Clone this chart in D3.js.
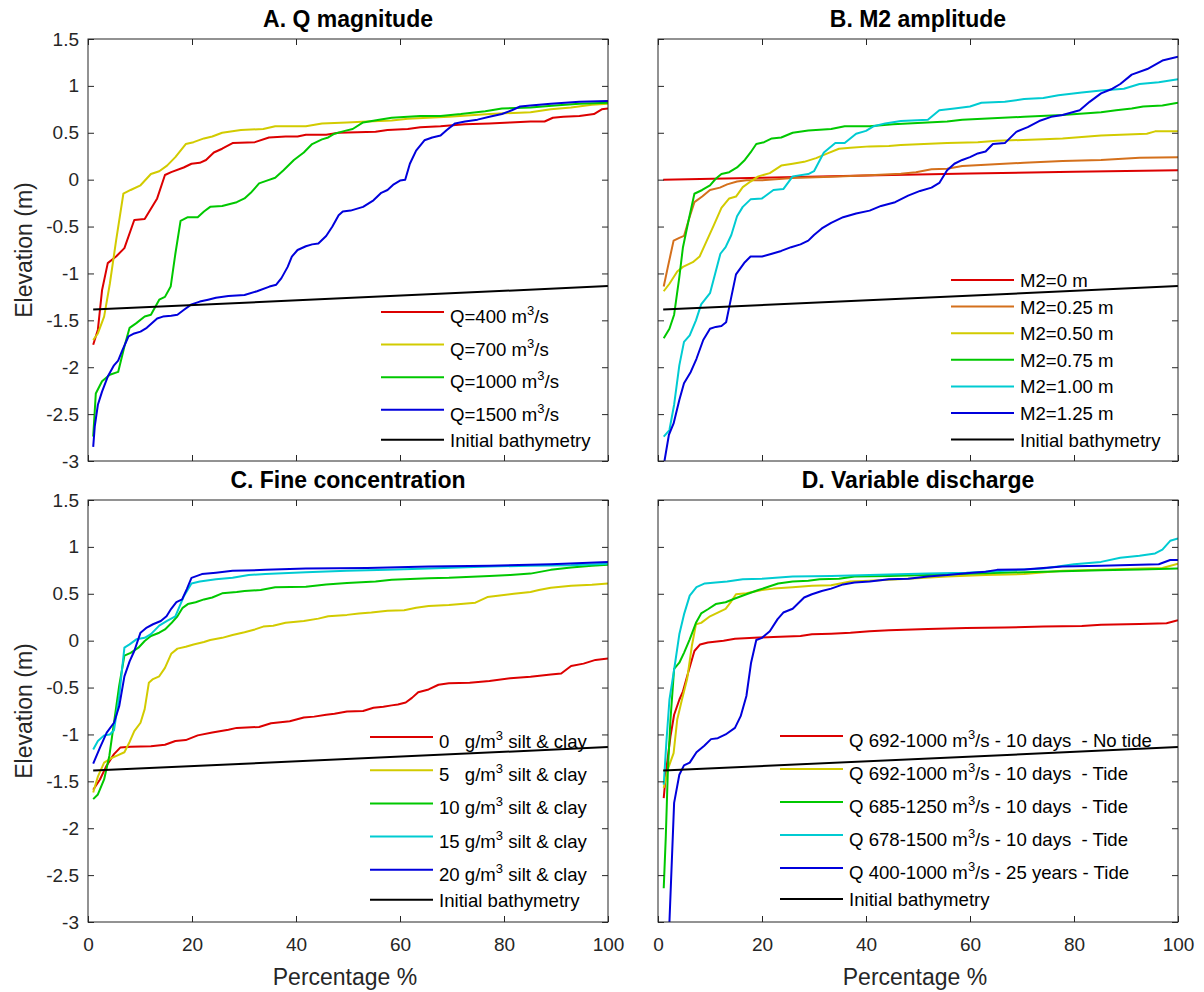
<!DOCTYPE html>
<html>
<head>
<meta charset="utf-8">
<script src="https://cdn.jsdelivr.net/npm/d3@7"></script>
<style>
  html, body { margin: 0; padding: 0; background: #fff; }
  svg text { font-family: "Liberation Sans", Arial, Helvetica, sans-serif; }
</style>
</head>
<body>
<svg id="chart"></svg>
<script>
// axis ticks
const xTicks = [0, 20, 40, 60, 80, 100];
const yTicks = [-3, -2.5, -2, -1.5, -1, -0.5, 0, 0.5, 1, 1.5];

// [percentage, elevation] pairs
const initialBathy = [[1, -1.385], [100, -1.135]];

// A. Q magnitude
const qA400 = [[1,-1.76],[1.9,-1.6],[2.7,-1.18],[3.8,-0.89],[5.4,-0.82],[7,-0.73],[8.9,-0.43],[10.9,-0.42],[13.3,-0.2],[14.8,0.05],[16,0.08],[18.4,0.13],[19.9,0.17],[21.5,0.18],[22.7,0.21],[24.2,0.29],[25.8,0.33],[27.8,0.39],[32.1,0.4],[34.8,0.45],[38,0.46],[40.3,0.46],[41.9,0.48],[45.8,0.48],[48.2,0.5],[55.3,0.51],[57.6,0.53],[61.5,0.54],[63.9,0.56],[67.8,0.57],[72.5,0.59],[77.2,0.6],[81.2,0.61],[85.1,0.62],[87.8,0.62],[89.4,0.66],[91.4,0.67],[94.5,0.68],[97.3,0.7],[98.8,0.75],[100,0.76]];
const qA700 = [[1,-1.71],[1.9,-1.64],[3.1,-1.46],[4.2,-1.11],[5.4,-0.65],[6.8,-0.15],[8.2,-0.11],[10.1,-0.06],[12.1,0.06],[13.7,0.09],[15.2,0.15],[16.8,0.24],[18.8,0.38],[20.3,0.4],[22.3,0.44],[23.9,0.46],[25.8,0.5],[29.4,0.53],[33.7,0.54],[36,0.57],[41.9,0.57],[45,0.6],[49.8,0.61],[53.7,0.62],[58.4,0.63],[61.5,0.65],[69.4,0.67],[77.2,0.7],[85.1,0.72],[89,0.75],[92.9,0.77],[96.9,0.8],[100,0.81]];
const qA1000 = [[1,-2.74],[1.5,-2.28],[2.7,-2.15],[4.2,-2.08],[5.8,-2.05],[7,-1.78],[8,-1.58],[9.3,-1.53],[10.9,-1.46],[12.1,-1.44],[13.7,-1.28],[14.8,-1.25],[15.9,-1.14],[16.8,-0.79],[17.8,-0.44],[19.2,-0.4],[21.1,-0.4],[22.3,-0.34],[23.5,-0.29],[25.8,-0.28],[28.6,-0.24],[30.1,-0.2],[31.3,-0.14],[32.9,-0.04],[34.4,-0.01],[36,0.02],[37.6,0.1],[39.6,0.21],[41.5,0.29],[43.1,0.38],[45,0.43],[46.2,0.45],[47.4,0.49],[49.4,0.52],[50.9,0.54],[52.9,0.61],[56,0.64],[58.4,0.66],[61.5,0.67],[63.9,0.68],[67.8,0.68],[71.7,0.7],[76.4,0.73],[79.6,0.76],[85.1,0.77],[89.8,0.79],[94.5,0.81],[100,0.82]];
const qA1500 = [[1,-2.85],[1.3,-2.63],[1.9,-2.4],[2.7,-2.26],[3.8,-2.1],[5,-1.98],[5.8,-1.93],[6.6,-1.82],[7.8,-1.67],[8.9,-1.64],[10.1,-1.62],[11.3,-1.58],[13.3,-1.48],[14.4,-1.46],[16,-1.45],[17.2,-1.44],[18.4,-1.39],[19.9,-1.33],[21.5,-1.3],[23.1,-1.28],[24.6,-1.26],[27,-1.24],[30.1,-1.23],[32.5,-1.19],[34.9,-1.14],[36.2,-1.12],[37.2,-1.05],[38.4,-0.93],[39.2,-0.82],[40.3,-0.75],[41.9,-0.71],[43.1,-0.69],[44.3,-0.68],[45.8,-0.6],[47,-0.5],[48.2,-0.38],[49,-0.34],[50.5,-0.33],[52.9,-0.29],[54.9,-0.22],[56.4,-0.14],[57.6,-0.11],[58.8,-0.05],[60,-0.01],[61,0],[61.9,0.17],[63.1,0.31],[64.7,0.42],[66.2,0.45],[67.8,0.47],[69,0.53],[70.6,0.6],[72.5,0.62],[74.9,0.64],[77.2,0.67],[79.6,0.7],[81.5,0.74],[83.1,0.78],[85.1,0.79],[89,0.81],[94.5,0.83],[100,0.84]];

// B. M2 amplitude
const m2a0 = [[1,0],[20,0.02],[40,0.045],[60,0.065],[80,0.085],[100,0.1]];
const m2a025 = [[1.1,-1.14],[1.9,-0.93],[3,-0.65],[4.1,-0.62],[5,-0.6],[5.9,-0.43],[7,-0.24],[8.5,-0.18],[10,-0.11],[11.9,-0.085],[13.3,-0.05],[15.2,-0.02],[17,-0.007],[20,-0.007],[25.9,0.018],[33.3,0.03],[40.7,0.046],[46.7,0.064],[49.6,0.08],[52.6,0.11],[55.6,0.117],[58.5,0.145],[63,0.16],[70.4,0.18],[77.8,0.2],[85.2,0.21],[92.6,0.234],[100,0.24]];
const m2a050 = [[1.1,-1.19],[2.2,-1.11],[3.7,-0.98],[4.8,-0.93],[6.7,-0.88],[8,-0.82],[9.3,-0.66],[10.7,-0.49],[12.2,-0.3],[13.7,-0.2],[15,-0.18],[16.3,-0.08],[17.8,-0.02],[19.3,0.035],[21.5,0.07],[23.7,0.15],[25.9,0.17],[28.1,0.19],[30.4,0.23],[32.6,0.28],[34.8,0.33],[37,0.34],[40.7,0.355],[44.4,0.36],[46.7,0.37],[55.6,0.39],[61.5,0.4],[65.2,0.415],[74.1,0.43],[77.8,0.44],[85.2,0.47],[94,0.49],[95.6,0.515],[100,0.515]];
const m2a075 = [[1.1,-1.69],[2.2,-1.59],[3.1,-1.44],[4.1,-1.04],[4.8,-0.72],[5.9,-0.43],[7,-0.15],[8.5,-0.11],[10,-0.06],[11.1,0.01],[12.2,0.06],[13.7,0.08],[15.2,0.13],[16.7,0.21],[17.8,0.29],[18.9,0.38],[20.4,0.4],[21.9,0.44],[23.7,0.45],[25.9,0.5],[28.9,0.525],[33.3,0.54],[35.9,0.57],[40.7,0.57],[45.2,0.59],[55.6,0.62],[58.5,0.64],[70.4,0.67],[77.8,0.69],[85.2,0.72],[88.1,0.74],[91.1,0.76],[93.3,0.78],[97,0.79],[100,0.82]];
const m2a100 = [[1.1,-2.74],[2.2,-2.67],[3.1,-2.4],[4.1,-1.98],[5,-1.73],[6.1,-1.66],[7.3,-1.5],[8.3,-1.33],[10,-1.21],[11,-1],[12,-0.79],[13,-0.72],[14.1,-0.59],[15.2,-0.39],[16.3,-0.29],[17.8,-0.21],[20,-0.2],[22.2,-0.11],[24.1,-0.1],[25.9,0.035],[28.9,0.06],[30,0.09],[31.9,0.29],[34.1,0.39],[35.9,0.39],[38.1,0.49],[40,0.52],[41.5,0.57],[43.7,0.6],[46.7,0.625],[51.9,0.64],[54.1,0.74],[57,0.76],[60,0.78],[62.2,0.82],[66.7,0.83],[70.4,0.86],[74.1,0.87],[77,0.9],[81.5,0.93],[85.2,0.95],[89.6,0.97],[92.6,1.02],[96.3,1.04],[100,1.07]];
const m2a125 = [[1,-3.08],[2.1,-2.72],[3,-2.6],[4.1,-2.35],[5,-2.17],[6.3,-2.05],[7.4,-1.91],[8.7,-1.71],[10,-1.59],[11.1,-1.57],[12.2,-1.56],[13.1,-1.52],[14.1,-1.25],[15,-1.01],[16.7,-0.88],[17.8,-0.82],[20,-0.82],[21.9,-0.79],[23.7,-0.76],[25.6,-0.72],[27.4,-0.69],[28.9,-0.65],[30,-0.59],[31.5,-0.52],[33.3,-0.46],[35.6,-0.4],[38.1,-0.36],[40.7,-0.33],[42.9,-0.28],[45.6,-0.24],[48.1,-0.17],[50.4,-0.12],[52.6,-0.085],[54.1,-0.035],[55.6,0.1],[57,0.17],[58.5,0.21],[60,0.24],[61.5,0.28],[63,0.3],[64.4,0.38],[66.7,0.39],[68.9,0.51],[71.1,0.56],[73.3,0.625],[75.6,0.67],[77.8,0.69],[81.1,0.74],[83,0.83],[85.2,0.92],[87.4,0.97],[88.9,1.02],[91.1,1.12],[94.1,1.18],[97,1.27],[100,1.31]];

// C. Fine concentration
const fc0 = [[1,-1.59],[2.3,-1.48],[3.5,-1.34],[5,-1.21],[6.2,-1.14],[8.2,-1.13],[12.1,-1.125],[14.8,-1.11],[16.8,-1.07],[18.8,-1.06],[21.1,-1.01],[23.9,-0.98],[27,-0.95],[28.6,-0.93],[32.9,-0.92],[35.2,-0.88],[38.8,-0.86],[41.5,-0.82],[43.5,-0.81],[45.8,-0.79],[47.4,-0.78],[49.8,-0.755],[52.9,-0.75],[54.9,-0.715],[56.8,-0.705],[58.4,-0.69],[59.6,-0.68],[61.1,-0.66],[62.3,-0.61],[63.5,-0.55],[65.5,-0.52],[67.4,-0.47],[69.4,-0.455],[73.4,-0.45],[77.2,-0.43],[81.2,-0.4],[85.1,-0.385],[89,-0.36],[91,-0.35],[92.9,-0.27],[95.3,-0.245],[97.6,-0.205],[100,-0.19]];
const fc5 = [[1,-1.62],[1.9,-1.45],[3.1,-1.3],[4.6,-1.25],[5.8,-1.22],[7,-1.19],[8,-1.08],[8.9,-0.965],[10.1,-0.875],[10.9,-0.73],[11.7,-0.45],[12.5,-0.41],[13.7,-0.38],[14.8,-0.29],[16,-0.14],[17.2,-0.085],[18.8,-0.065],[20.3,-0.04],[22.3,-0.015],[23.5,0.007],[25.8,0.03],[27.8,0.06],[30.1,0.09],[32.1,0.12],[33.7,0.15],[35.6,0.16],[38,0.19],[41.5,0.21],[44.3,0.235],[46.2,0.26],[49.8,0.275],[52.1,0.29],[54.5,0.3],[57.6,0.32],[60.8,0.325],[63.1,0.35],[65.5,0.37],[69.4,0.38],[71.7,0.39],[74.5,0.405],[76.8,0.465],[78.8,0.48],[81.9,0.5],[85.1,0.52],[86.7,0.54],[89,0.565],[92.9,0.585],[96.9,0.595],[100,0.61]];
const fc10 = [[1,-1.69],[1.9,-1.64],[3.1,-1.48],[4.1,-1.23],[5,-0.875],[6,-0.48],[7,-0.16],[8.2,-0.13],[9.7,-0.075],[10.9,-0.004],[12.1,0.05],[13.7,0.085],[14.8,0.12],[16,0.185],[17.2,0.26],[18.2,0.35],[19.2,0.39],[20.7,0.41],[22.3,0.44],[23.9,0.46],[25.8,0.505],[28.6,0.52],[30.1,0.53],[33.2,0.54],[36,0.57],[41.9,0.575],[45.8,0.6],[49.8,0.615],[55.3,0.63],[58.4,0.65],[65.5,0.665],[69.4,0.67],[77.2,0.69],[81.2,0.7],[85.1,0.715],[89,0.755],[92.9,0.78],[96.9,0.8],[100,0.81]];
const fc15 = [[1,-1.16],[1.9,-1.07],[3.1,-1.01],[4.2,-1],[5,-0.955],[6,-0.59],[7,-0.075],[8,-0.04],[9.3,0.014],[10.9,0.03],[12.1,0.07],[13.7,0.16],[15.2,0.21],[16.8,0.26],[18.4,0.47],[19.9,0.61],[21.5,0.63],[24.6,0.655],[27.8,0.67],[30.9,0.7],[34.1,0.71],[41.9,0.73],[49.8,0.745],[57.6,0.755],[65.5,0.77],[77.2,0.79],[85.1,0.8],[92.9,0.805],[100,0.82]];
const fc20 = [[1,-1.31],[2.3,-1.14],[3.6,-0.98],[5,-0.875],[6,-0.7],[7,-0.38],[8,-0.22],[8.9,-0.11],[10.1,0.085],[11.3,0.14],[12.5,0.175],[14,0.21],[15.1,0.26],[16,0.34],[17,0.41],[18.1,0.44],[19,0.55],[19.9,0.67],[21.9,0.71],[24.6,0.725],[27.8,0.745],[34.1,0.755],[41.9,0.77],[53.7,0.775],[65.5,0.79],[77.2,0.8],[89,0.815],[100,0.84]];

// D. Variable discharge
const vdNoTide = [[1.1,-1.68],[1.6,-1.37],[2.4,-1.02],[3.1,-0.79],[4.1,-0.63],[4.8,-0.54],[5.9,-0.32],[7,-0.11],[8.1,-0.04],[9.6,-0.02],[12.6,0],[14.8,0.02],[18.5,0.03],[22.2,0.04],[27.4,0.05],[29.6,0.068],[33.3,0.075],[37,0.085],[40.7,0.1],[44.4,0.11],[51.9,0.125],[59.3,0.135],[66.7,0.14],[74.1,0.15],[81.5,0.157],[85.2,0.17],[92.6,0.178],[97.8,0.185],[100,0.217]];
const vd692 = [[1.1,-1.57],[1.9,-1.37],[3,-1.2],[3.7,-0.84],[4.6,-0.63],[5.6,-0.41],[6.5,-0.06],[7.3,0.175],[8.3,0.19],[10,0.26],[11.5,0.3],[13,0.34],[14.1,0.42],[15,0.495],[17,0.505],[20,0.54],[22.2,0.555],[25.9,0.57],[29.6,0.585],[33.3,0.59],[37,0.63],[40.7,0.64],[48.1,0.66],[55.6,0.685],[63,0.7],[70.4,0.71],[77.8,0.745],[85.2,0.755],[92.6,0.77],[97,0.775],[100,0.82]];
const vd685 = [[1.1,-2.64],[1.5,-2.09],[1.9,-1.375],[2.4,-0.84],[3.1,-0.3],[4.1,-0.235],[5,-0.13],[6.1,0.014],[7.3,0.19],[8.3,0.29],[9.6,0.335],[11.1,0.39],[13,0.41],[14.8,0.45],[17,0.495],[19.3,0.54],[21.5,0.58],[23.1,0.61],[25.9,0.63],[28.9,0.64],[31.1,0.655],[34.8,0.66],[37.8,0.685],[44.4,0.69],[51.9,0.7],[63,0.72],[74.1,0.735],[85.2,0.75],[92.6,0.76],[100,0.77]];
const vd678 = [[1.1,-1.535],[1.6,-1.09],[2.2,-0.63],[3.1,-0.31],[4.1,0.068],[5,0.28],[6.1,0.48],[7.4,0.57],[9,0.61],[11.1,0.62],[13.3,0.63],[16.3,0.655],[20,0.66],[25.9,0.685],[33.3,0.69],[40.7,0.7],[51.9,0.715],[59.3,0.725],[66.7,0.745],[74.1,0.77],[80,0.815],[85.2,0.84],[88.9,0.885],[92.6,0.905],[95.6,0.93],[97,0.97],[98.5,1.065],[100,1.09]];
const vd400 = [[1.3,-4.2],[2.2,-3],[3.1,-1.73],[4.1,-1.43],[5,-1.33],[6.1,-1.3],[7.4,-1.19],[8.9,-1.12],[10.2,-1.05],[11.5,-1.04],[13,-1],[14.8,-0.93],[15.9,-0.805],[17,-0.59],[17.9,-0.235],[18.9,0.007],[20,0.03],[21.5,0.1],[23,0.23],[24.1,0.3],[25.9,0.34],[28.1,0.46],[29.6,0.495],[31.5,0.53],[33.3,0.555],[35.6,0.6],[37.8,0.62],[40.7,0.63],[44.4,0.655],[48.1,0.66],[51.9,0.685],[55.6,0.7],[59.3,0.72],[63,0.735],[65.2,0.755],[70.4,0.76],[77.8,0.79],[85.2,0.8],[92.6,0.81],[96.3,0.815],[98.5,0.86],[100,0.86]];

const red = '#dc0000', orange = '#d4701c', yellow = '#d2cb00',
      green = '#00c800', cyan = '#00cbd2', blue = '#0000dc', black = '#000000';

const panels = [
  { title: 'A. Q magnitude', left: 88, top: 39, xLabels: false, yLabels: true,
    legend: { x: 381, y: 312, step: 32.6, lastStep: 30 },
    series: [[qA400, 'Q=400 m^3/s', red], [qA700, 'Q=700 m^3/s', yellow],
             [qA1000, 'Q=1000 m^3/s', green], [qA1500, 'Q=1500 m^3/s', blue],
             [initialBathy, 'Initial bathymetry', black]] },
  { title: 'B. M2 amplitude', left: 658, top: 39, xLabels: false, yLabels: false,
    legend: { x: 951, y: 280, step: 26.6, lastStep: 26.6 },
    series: [[m2a0, 'M2=0 m', red], [m2a025, 'M2=0.25 m', orange], [m2a050, 'M2=0.50 m', yellow],
             [m2a075, 'M2=0.75 m', green], [m2a100, 'M2=1.00 m', cyan], [m2a125, 'M2=1.25 m', blue],
             [initialBathy, 'Initial bathymetry', black]] },
  { title: 'C. Fine concentration', left: 88, top: 500, xLabels: true, yLabels: true,
    legend: { x: 370, y: 737, step: 33.2, lastStep: 30 },
    series: [[fc0, '0   g/m^3 silt & clay', red], [fc5, '5   g/m^3 silt & clay', yellow],
             [fc10, '10 g/m^3 silt & clay', green], [fc15, '15 g/m^3 silt & clay', cyan],
             [fc20, '20 g/m^3 silt & clay', blue], [initialBathy, 'Initial bathymetry', black]] },
  { title: 'D. Variable discharge', left: 658, top: 500, xLabels: true, yLabels: false,
    legend: { x: 780, y: 736, step: 33, lastStep: 31 },
    series: [[vdNoTide, 'Q 692-1000 m^3/s - 10 days  - No tide', red],
             [vd692, 'Q 692-1000 m^3/s - 10 days  - Tide', yellow],
             [vd685, 'Q 685-1250 m^3/s - 10 days  - Tide', green],
             [vd678, 'Q 678-1500 m^3/s - 10 days  - Tide', cyan],
             [vd400, 'Q 400-1000 m^3/s - 25 years - Tide', blue],
             [initialBathy, 'Initial bathymetry', black]] }
];

const width = 1204, height = 992;
const pw = 520, ph = 422;
const axisColor = '#262626';

const svg = d3.select('#chart').attr('width', width).attr('height', height);
svg.append('rect').attr('width', width).attr('height', height).attr('fill', '#fff');

// text with ^N superscripts
function addLabel(text, label) {
  const parts = label.split(/\^(\d)/);
  parts.forEach((p, i) => {
    if (i % 2 === 1) {
      text.append('tspan').attr('dy', -8).attr('font-size', 13).text(p);
    } else if (p.length) {
      const t = text.append('tspan').text(p);
      if (i > 0) t.attr('dy', 8);
    }
  });
}

panels.forEach((p, pi) => {
  const x = d3.scaleLinear().domain([0, 100]).range([p.left, p.left + pw]);
  const y = d3.scaleLinear().domain([-3, 1.5]).range([p.top + ph, p.top]);
  const g = svg.append('g');

  const clipId = 'clip' + pi;
  g.append('clipPath').attr('id', clipId)
    .append('rect').attr('x', p.left).attr('y', p.top).attr('width', pw).attr('height', ph);

  const line = d3.line().x(d => x(d[0])).y(d => y(d[1]));
  g.append('g').attr('clip-path', `url(#${clipId})`)
    .selectAll('path')
    .data(p.series)
    .enter()
    .append('path')
    .attr('d', d => line(d[0]))
    .attr('fill', 'none')
    .attr('stroke', d => d[2])
    .attr('stroke-width', 2)
    .attr('stroke-linejoin', 'round');

  // axes, ticks pointing inward on all four sides
  const fmt = d => String(d);
  const axes = [
    [d3.axisLeft(y).tickValues(yTicks).tickPadding(9).tickFormat(p.yLabels ? fmt : ''), `translate(${p.left},0)`],
    [d3.axisRight(y).tickValues(yTicks).tickFormat(''), `translate(${p.left + pw},0)`],
    [d3.axisTop(x).tickValues(xTicks).tickFormat(''), `translate(0,${p.top})`],
    [d3.axisBottom(x).tickValues(xTicks).tickPadding(16).tickFormat(p.xLabels ? fmt : ''), `translate(0,${p.top + ph})`]
  ];
  axes.forEach(([ax, tr]) => {
    const a = g.append('g').attr('transform', tr).call(ax.tickSize(-6));
    a.select('.domain').remove();
    a.selectAll('line').attr('stroke', axisColor);
    a.selectAll('text').attr('fill', axisColor).style('font-size', '19px')
      .style('font-family', '"Liberation Sans", Arial, sans-serif');
  });

  g.append('rect')
    .attr('x', p.left).attr('y', p.top).attr('width', pw).attr('height', ph)
    .attr('fill', 'none').attr('stroke', axisColor).attr('stroke-width', 1);

  g.append('text')
    .attr('x', p.left + pw / 2).attr('y', p.top - 12)
    .attr('text-anchor', 'middle')
    .style('font-size', '23px').style('font-weight', 'bold')
    .text(p.title);

  if (p.yLabels) {
    g.append('text')
      .attr('transform', `translate(31.5,${p.top + ph / 2}) rotate(-90)`)
      .attr('text-anchor', 'middle').attr('fill', axisColor)
      .style('font-size', '23px')
      .text('Elevation (m)');
  }
  if (p.xLabels) {
    g.append('text')
      .attr('x', p.left + pw / 2 - 3).attr('y', p.top + ph + 63)
      .attr('text-anchor', 'middle').attr('fill', axisColor)
      .style('font-size', '23px')
      .text('Percentage %');
  }

  // legend, no box
  const lg = g.append('g');
  let ly = p.legend.y;
  p.series.forEach((s, i) => {
    if (i > 0) ly += (i === p.series.length - 1) ? p.legend.lastStep : p.legend.step;
    lg.append('line')
      .attr('x1', p.legend.x).attr('x2', p.legend.x + 63)
      .attr('y1', ly).attr('y2', ly)
      .attr('stroke', s[2]).attr('stroke-width', 2);
    const hasSup = s[1].includes('^');
    const t = lg.append('text')
      .attr('x', p.legend.x + 69).attr('y', ly + (hasSup ? 11 : 7))
      .attr('xml:space', 'preserve')
      .style('white-space', 'pre')
      .style('font-size', '18.6px');
    addLabel(t, s[1]);
  });
});
</script>
</body>
</html>
